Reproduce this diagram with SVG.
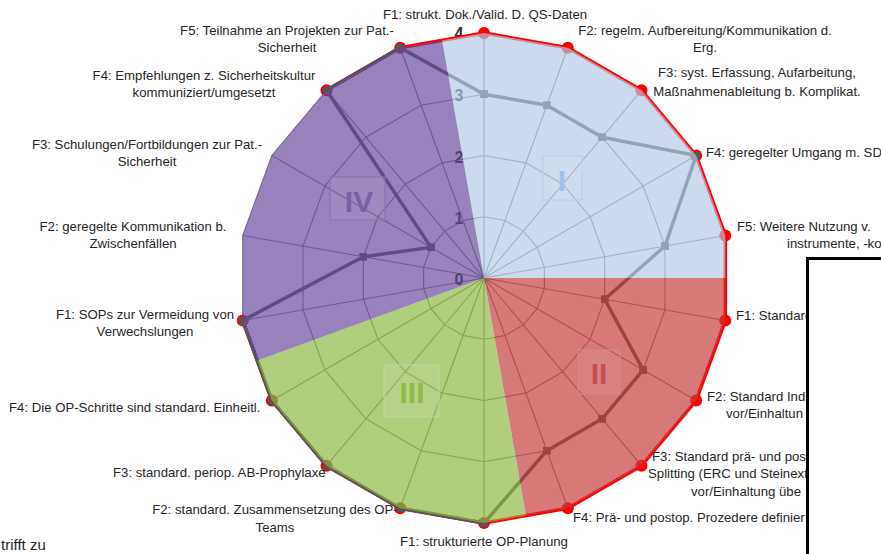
<svg xmlns="http://www.w3.org/2000/svg" width="881" height="554" viewBox="0 0 881 554">
<style>
.lbl{font-family:"Liberation Sans",Arial,sans-serif;font-size:13.2px;fill:#262626}
.m{text-anchor:middle}
.ax{font-family:"Liberation Sans",Arial,sans-serif;font-size:16px;font-weight:bold;fill:#333333;text-anchor:middle}
.grid{fill:none;stroke:#7f7f7f;stroke-width:1.1}
.sec{font-family:"Liberation Sans",Arial,sans-serif;font-size:30px;font-weight:bold;text-anchor:middle}
.fill{opacity:0.68}
</style>
<defs>
<clipPath id="radar"><polygon points="484,33 567.79,47.78 641.48,90.32 696.18,155.5 725.28,235.46 725.28,320.54 696.18,400.5 641.48,465.68 567.79,508.22 484,523 400.21,508.22 326.52,465.68 271.82,400.5 242.72,320.54 242.72,235.46 271.82,155.5 326.52,90.32 400.21,47.78"/></clipPath>
<marker id="sq" markerWidth="8" markerHeight="8" refX="4" refY="4" markerUnits="userSpaceOnUse"><rect width="8" height="8" fill="#555555"/></marker>
<marker id="dot" markerWidth="14" markerHeight="14" refX="7" refY="7" markerUnits="userSpaceOnUse"><circle cx="7" cy="7" r="6" fill="#ff0000"/></marker>
</defs>
<rect width="881" height="554" fill="#ffffff"/>

<g id="grid">
<polygon class="grid" points="484,216.75 504.95,220.44 523.37,231.08 537.04,247.38 544.32,267.36 544.32,288.64 537.04,308.63 523.37,324.92 504.95,335.56 484,339.25 463.05,335.56 444.63,324.92 430.96,308.63 423.68,288.64 423.68,267.36 430.96,247.38 444.63,231.08 463.05,220.44"/>
<polygon class="grid" points="484,155.5 525.9,162.89 562.74,184.16 590.09,216.75 604.64,256.73 604.64,299.27 590.09,339.25 562.74,371.84 525.9,393.11 484,400.5 442.1,393.11 405.26,371.84 377.91,339.25 363.36,299.27 363.36,256.73 377.91,216.75 405.26,184.16 442.1,162.89"/>
<polygon class="grid" points="484,94.25 546.85,105.33 602.11,137.24 643.13,186.13 664.96,246.09 664.96,309.91 643.13,369.88 602.11,418.76 546.85,450.67 484,461.75 421.15,450.67 365.89,418.76 324.87,369.88 303.04,309.91 303.04,246.09 324.87,186.13 365.89,137.24 421.15,105.33"/>
<polygon class="grid" points="484,33 567.79,47.78 641.48,90.32 696.18,155.5 725.28,235.46 725.28,320.54 696.18,400.5 641.48,465.68 567.79,508.22 484,523 400.21,508.22 326.52,465.68 271.82,400.5 242.72,320.54 242.72,235.46 271.82,155.5 326.52,90.32 400.21,47.78"/>
<path class="grid" d="M484,278L484,33M484,278L567.79,47.78M484,278L641.48,90.32M484,278L696.18,155.5M484,278L725.28,235.46M484,278L725.28,320.54M484,278L696.18,400.5M484,278L641.48,465.68M484,278L567.79,508.22M484,278L484,523M484,278L400.21,508.22M484,278L326.52,465.68M484,278L271.82,400.5M484,278L242.72,320.54M484,278L242.72,235.46M484,278L271.82,155.5M484,278L326.52,90.32M484,278L400.21,47.78"/>
</g>

<g id="axis-values">
<text class="ax" x="459" y="39">4</text>
<text class="ax" x="459" y="101">3</text>
<text class="ax" x="459" y="163">2</text>
<text class="ax" x="459" y="224">1</text>
<text class="ax" x="459" y="285">0</text>
</g>

<g id="connectors">
<polyline id="max-series" points="326.52,90.32 400.21,47.78 484,33 567.79,47.78 641.48,90.32 696.18,155.5 725.28,235.46 725.28,320.54 696.18,400.5 641.48,465.68 567.79,508.22 484,523 400.21,508.22 326.52,465.68 271.82,400.5 242.72,320.54" fill="none" stroke="#ff0000" stroke-width="3.5" stroke-linejoin="round" marker-start="url(#dot)" marker-mid="url(#dot)" marker-end="url(#dot)"/>
<polygon id="data-series" points="484,94.25 546.85,105.33 602.11,137.24 696.18,155.5 664.96,246.09 604.64,299.27 643.13,369.88 602.11,418.76 546.85,450.67 484,523 400.21,508.22 326.52,465.68 271.82,400.5 242.72,320.54 363.36,256.73 430.96,247.37 326.52,90.32 400.21,47.78" fill="none" stroke="#555555" stroke-width="3.5" stroke-linejoin="round" marker-start="url(#sq)" marker-mid="url(#sq)" marker-end="url(#sq)"/>
</g>

<g id="sectors" clip-path="url(#radar)">
<polygon id="sector-I" class="fill" points="484,278 414.5,-116 900,-116 900,278" fill="#b2c9e5"/>
<polygon id="sector-II" class="fill" points="484,278 900,278 900,672 553.5,672" fill="#c43a3a"/>
<polygon id="sector-III" class="fill" points="484,278 553.5,672 108.1,672 108.1,414.8" fill="#8cb73f"/>
<polygon id="sector-IV" class="fill" points="484,278 108.1,414.8 -100,414.8 -100,-116 414.5,-116" fill="#65479b"/>
</g>

<g id="section-I">
<rect x="543" y="156" width="39" height="44" fill="#ffffff" fill-opacity="0.06" stroke="#bcd0e8" stroke-width="1.2"/>
<text class="sec" x="562" y="191" fill="#a3c1e4">I</text>
</g>
<g id="section-II">
<rect x="578" y="350" width="42" height="44" fill="#ffffff" fill-opacity="0.06" stroke="#d08a8a" stroke-width="1.2"/>
<text class="sec" x="599" y="384" fill="#c0504d">II</text>
</g>
<g id="section-III">
<rect x="384" y="365" width="55" height="52" fill="#ffffff" fill-opacity="0.08" stroke="#bcd69a" stroke-width="1.2"/>
<text class="sec" x="412" y="403" fill="#8fba4a">III</text>
</g>
<g id="section-IV">
<rect x="330" y="177" width="55" height="43" fill="#ffffff" fill-opacity="0.06" stroke="#8a74ad" stroke-width="1.2"/>
<text class="sec" x="359" y="212" fill="#7b5fa3">IV</text>
</g>

<g id="labels-I">
<text class="lbl m" x="485" y="19">F1: strukt. Dok./Valid. D. QS-Daten</text>
<text class="lbl m" x="705" y="35">F2: regelm. Aufbereitung/Kommunikation d.</text>
<text class="lbl m" x="705" y="52">Erg.</text>
<text class="lbl m" x="757" y="77">F3: syst. Erfassung, Aufarbeitung,</text>
<text class="lbl m" x="757" y="96">Maßnahmenableitung b. Komplikat.</text>
<text class="lbl" x="706" y="157">F4: geregelter Umgang m. SD</text>
<text class="lbl" x="737" y="231">F5: Weitere Nutzung v.</text>
<text class="lbl" x="787" y="248">instrumente, -ko</text>
</g>
<g id="labels-II">
<text class="lbl" x="736" y="320">F1: Standard</text>
<text class="lbl" x="707" y="401">F2: Standard Indi</text>
<text class="lbl" x="726" y="418">vor/Einhaltun</text>
<text class="lbl" x="652" y="461">F3: Standard prä- und pos</text>
<text class="lbl" x="648" y="478">Splitting (ERC und Steinext</text>
<text class="lbl" x="691" y="496">vor/Einhaltung übe</text>
<text class="lbl" x="573" y="522">F4: Prä- und postop. Prozedere definier</text>
</g>
<g id="labels-III">
<text class="lbl m" x="484" y="546">F1: strukturierte OP-Planung</text>
<text class="lbl m" x="275" y="514">F2: standard. Zusammensetzung des OP-</text>
<text class="lbl m" x="275" y="532">Teams</text>
<text class="lbl" x="113" y="477">F3: standard. periop. AB-Prophylaxe</text>
<text class="lbl" x="9" y="412">F4: Die OP-Schritte sind standard. Einheitl.</text>
</g>
<g id="labels-IV">
<text class="lbl m" x="145" y="319">F1: SOPs zur Vermeidung von</text>
<text class="lbl m" x="145" y="336">Verwechslungen</text>
<text class="lbl m" x="133" y="231">F2: geregelte Kommunikation b.</text>
<text class="lbl m" x="133" y="248">Zwischenfällen</text>
<text class="lbl m" x="147" y="149">F3: Schulungen/Fortbildungen zur Pat.-</text>
<text class="lbl m" x="147" y="166">Sicherheit</text>
<text class="lbl m" x="204" y="80">F4: Empfehlungen z. Sicherheitskultur</text>
<text class="lbl m" x="204" y="97">kommuniziert/umgesetzt</text>
<text class="lbl m" x="287" y="35">F5: Teilnahme an Projekten zur Pat.-</text>
<text class="lbl m" x="287" y="52">Sicherheit</text>
</g>
<text class="lbl" x="1" y="550" style="font-size:15px">trifft zu</text>

<g id="overlay-box">
<rect x="807.5" y="258.5" width="100" height="320" fill="#ffffff" stroke="#000000" stroke-width="3"/>
</g>
</svg>
